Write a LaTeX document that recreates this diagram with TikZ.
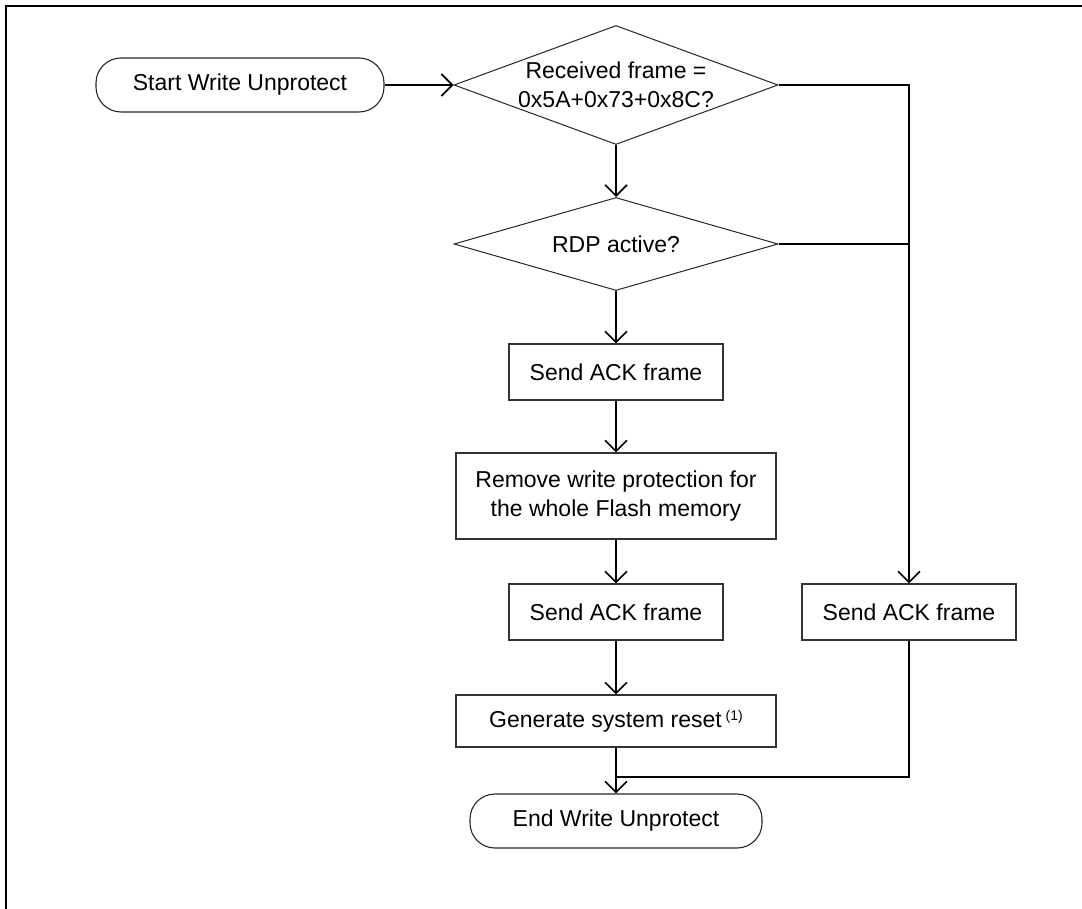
\documentclass[tikz,border=0pt]{standalone}
\usepackage{fontspec}
\setmainfont{Liberation Sans}
\usetikzlibrary{arrows.meta,shapes.geometric}
\begin{document}
\begin{tikzpicture}[x=1pt,y=-1pt,
  every node/.style={font=\fontsize{23}{29}\selectfont, align=center, inner sep=0pt},
  box/.style={draw=black!80, line width=1.1pt, rectangle},
  term/.style={draw=black!85, line width=1.1pt, rectangle, rounded corners=25pt},
  dia/.style={draw=black!85, line width=1pt, diamond, inner sep=0pt},
  flow/.style={line width=2pt},
  arr/.style={flow, -{Straight Barb[length=11pt,width=22pt,line width=1.6pt]}}
]
\useasboundingbox (0,0) rectangle (1082,909);

% frame
\draw[line width=2.5pt] (6,909) -- (6,6) -- (1082,6);

% terminals
\node[term, minimum width=288pt, minimum height=54pt] (start) at (240,85) {Start Write Unprotect};
\node[term, minimum width=292pt, minimum height=54pt] (stop) at (616,821) {End Write Unprotect};

% decisions
\node[dia, minimum width=324pt, minimum height=119pt] (d1) at (616,85) {};
\node (d1t) at (616,85) {Received frame =\\0x5A+0x73+0x8C?};
\node[dia, minimum width=324pt, minimum height=93pt] (d2) at (616,244) {};
\node (d2t) at (616,244) {RDP active?};

% actions
\node[box, minimum width=214pt, minimum height=56pt] (ack1) at (616,372) {Send ACK frame};
\node[box, minimum width=320pt, minimum height=86pt] (rm) at (616,496) {Remove write protection for\\the whole Flash memory};
\node[box, minimum width=214pt, minimum height=56pt] (ack2) at (616,612) {Send ACK frame};
\node[box, minimum width=214pt, minimum height=56pt] (ackn) at (909,612) {Send ACK frame};
\node[box, minimum width=320pt, minimum height=52pt] (gen) at (616,721) {Generate system reset\,\raisebox{7pt}{\fontsize{14}{16}\selectfont(1)}};

\coordinate (join) at (616,777);

% connectors
\draw[arr] (start.east) -- (d1.west);
\draw[arr] (d1.south) -- (d2.north);
\draw[arr] (d1.east) -| (ackn.north);
\draw[flow] (d2.east) -- (ackn.north |- d2.east);
\draw[arr] (d2.south) -- (ack1.north);
\draw[arr] (ack1.south) -- (rm.north);
\draw[arr] (rm.south) -- (ack2.north);
\draw[arr] (ack2.south) -- (gen.north);
\draw[arr] (gen.south) -- (stop.north);
\draw[flow] (ackn.south) |- (join);
\end{tikzpicture}
\end{document}
